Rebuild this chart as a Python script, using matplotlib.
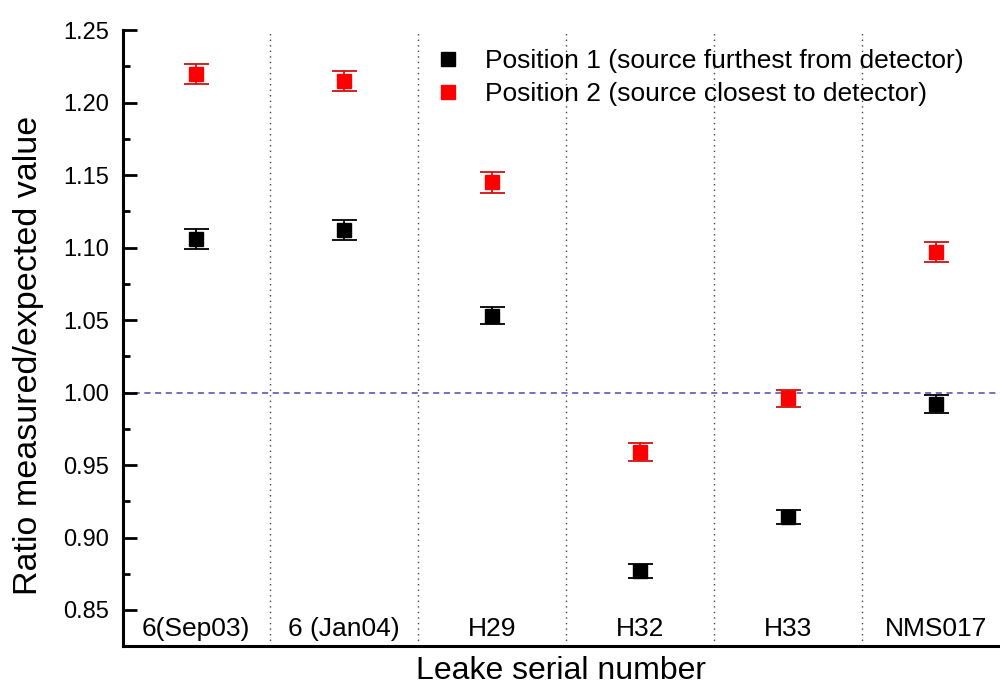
import matplotlib.pyplot as plt
from matplotlib.lines import Line2D
from matplotlib.ticker import MultipleLocator

plt.rcParams['font.family'] = ['Liberation Sans', 'DejaVu Sans']

# leak sources on the x axis
serials = ["6(Sep03)", "6 (Jan04)", "H29", "H32", "H33", "NMS017"]

# measured/expected ratios
pos1_ratio = [1.106, 1.112, 1.053, 0.877, 0.914, 0.992]
pos2_ratio = [1.220, 1.215, 1.145, 0.959, 0.996, 1.097]
pos1_err = [0.007, 0.007, 0.006, 0.005, 0.005, 0.006]
pos2_err = [0.007, 0.007, 0.007, 0.006, 0.006, 0.007]

labels = ["Position 1 (source furthest from detector)",
          "Position 2 (source closest to detector)"]

fig = plt.figure(figsize=(10, 6.86), dpi=100)
ax = fig.add_axes([0.123, 0.058, 0.877, 0.898])

x = list(range(len(serials)))

ax.errorbar(x, pos1_ratio, yerr=pos1_err, fmt='s', color='black', ms=9.5,
            ecolor='black', elinewidth=1.3, capsize=9, capthick=1.3, zorder=3)
ax.errorbar(x, pos2_ratio, yerr=pos2_err, fmt='s', color='#ff0000', ms=9.5,
            ecolor='#d01010', elinewidth=1.3, capsize=9, capthick=1.3, zorder=3)

# reference line at 1 and category separators
ax.axhline(1.0, color='#4a4ab0', linestyle=(0, (4, 3)), linewidth=1.1, zorder=1)
for sep in range(len(serials) - 1):
    ax.axvline(sep + 0.5, color='#444444', linestyle=(0, (1, 3)), linewidth=1.0, zorder=1)

ax.set_xlim(-0.493, 5.43)
ax.set_ylim(0.825, 1.25)

ax.spines['top'].set_visible(False)
ax.spines['right'].set_visible(False)
ax.spines['left'].set_linewidth(2.2)
ax.spines['bottom'].set_linewidth(2.2)

ax.yaxis.set_major_locator(MultipleLocator(0.05))
ax.yaxis.set_minor_locator(MultipleLocator(0.025))
ax.set_yticks([0.85, 0.90, 0.95, 1.00, 1.05, 1.10, 1.15, 1.20, 1.25])
ax.tick_params(axis='y', which='major', direction='in', length=10, width=2,
               labelsize=17, pad=10)
ax.tick_params(axis='y', which='minor', direction='in', length=5, width=2)

# category labels sit inside the axes, above the bottom spine
ax.set_xticks(x)
ax.set_xticklabels(serials)
ax.tick_params(axis='x', length=0, labelsize=19, pad=-21)

ax.set_ylabel("Ratio measured/expected value", fontsize=24.5)
ax.yaxis.set_label_coords(-0.09, 0.472)
ax.set_xlabel("Leake serial number", fontsize=23, labelpad=7)

# legend shows plain square markers only
handles = [Line2D([], [], marker='s', linestyle='none', color='black', ms=9.5),
           Line2D([], [], marker='s', linestyle='none', color='#ff0000', ms=9.5)]
ax.legend(handles, labels, loc='upper left', bbox_to_anchor=(0.335, 0.995),
          frameon=False, fontsize=19, handletextpad=0.8, labelspacing=0.35,
          handlelength=1.2, borderaxespad=0.2)

plt.savefig("out.png", dpi=100)
plt.close()
